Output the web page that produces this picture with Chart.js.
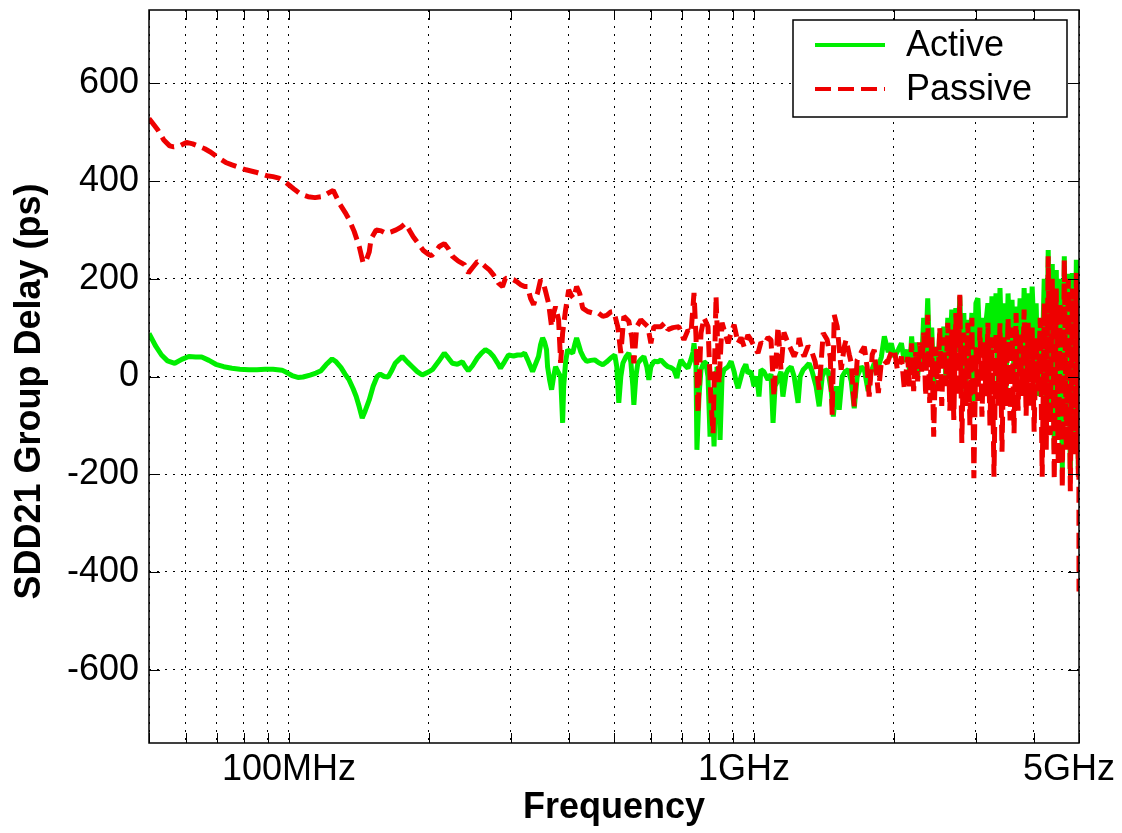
<!DOCTYPE html>
<html>
<head>
<meta charset="utf-8">
<title>SDD21 Group Delay</title>
<script src="https://cdn.jsdelivr.net/npm/chart.js@4.4.1/dist/chart.umd.min.js"></script>
<style>
  html, body { margin: 0; padding: 0; background: #fff; }
  #wrap { width: 1122px; height: 833px; position: relative; }
</style>
</head>
<body>
<div id="wrap"><canvas id="delayChart"></canvas></div>
<script>
// frequencies in MHz, group delay in ps
const activeFreqMHz = [
  50, 51.7, 53.2, 54.8, 56.8, 58.8, 60.9, 63.0, 64.9, 67.3, 69.6, 72.4, 75.4, 78.4, 82, 85.3, 88.8, 92.4, 96.6, 98.9,
  101.5, 104.5, 107.2, 111, 114.3, 117.2, 120.1, 123.8, 126.3, 129.4, 132, 134.7, 137.4, 139.5, 141.6, 143.7, 145.9, 148.8, 151.7, 154.7,
  157.1, 160.2, 163.4, 165.9, 169.2, 172.6, 175.2, 179.6, 184.1, 188.7, 193.5, 198.4, 203.4, 209.5, 215.8, 220.1, 224.6, 230.2, 236, 239.5,
  243.1, 248.1, 254.2, 259.4, 264.5, 269.8, 275.3, 280.7, 285, 290.7, 296.5, 304, 310.1, 316.4, 321.1, 325.8, 329.1, 334.1, 338.9, 344.1,
  347.6, 351.1, 354.6, 358, 359.8, 363.5, 367.1, 370.8, 374.4, 380, 383.9, 387.7, 389.7, 393.5, 397.4, 403.5, 407.5, 411.6, 415.5, 419.8,
  424, 430.4, 436.7, 445.6, 454.5, 463.6, 473, 482.3, 492.1, 502, 506.9, 512, 517.2, 522.4, 530.1, 538, 543.5, 548.9, 551.7, 557.1,
  562.5, 571.1, 579.7, 588.2, 594.2, 600.2, 609.2, 621.3, 630.8, 643.4, 653, 662.9, 672.8, 682.7, 689.6, 696.6, 707, 721, 732.1, 739.4,
  743.1, 750.4, 753.9, 761.6, 769.3, 780.8, 788.3, 796.4, 804.5, 812.5, 820.6, 828.7, 832.6, 841.1, 845.4, 853.8, 862.3, 879.5, 892.9, 906.3,
  915.2, 924.2, 938.3, 947.7, 960.4, 970.2, 985, 1000, 1015, 1025, 1035, 1050, 1072, 1088, 1099, 1110, 1126, 1143, 1154, 1172,
  1184, 1202, 1220, 1244, 1257, 1276, 1295, 1314, 1334, 1360, 1381, 1402, 1423, 1444, 1466, 1481, 1503, 1525, 1548, 1571,
  1595, 1619, 1643, 1667, 1701, 1727, 1760, 1787, 1814, 1851, 1879, 1907, 1944, 1974, 2004, 2044, 2075, 2106,
  2140, 2161, 2183, 2205, 2227, 2249, 2272, 2294, 2317, 2340, 2364, 2387, 2411, 2435, 2460, 2484, 2509, 2534, 2560, 2585,
  2611, 2637, 2663, 2690, 2717, 2744, 2771, 2799, 2827, 2855, 2884, 2913, 2942, 2971, 3001, 3031, 3061, 3092, 3123, 3154,
  3185, 3217, 3249, 3282, 3315, 3348, 3381, 3415, 3449, 3484, 3519, 3554, 3589, 3625, 3661, 3698, 3735, 3772, 3810, 3848,
  3887, 3925, 3965, 4004, 4044, 4085, 4126, 4167, 4209, 4251, 4293, 4336, 4380, 4423, 4468, 4512, 4557, 4603, 4649, 4695,
  4742, 4790, 4838, 4886, 4935, 4984, 4995, 5000
];
const activeDelay = [
  88, 62, 44, 32, 27, 35, 41, 40, 40, 33, 25, 20, 17, 15, 14, 14, 15, 15, 13, 8,
  2, -2, -1, 3, 7, 12, 24, 36, 30, 18, 5, -7, -25, -41, -62, -85, -70, -48, -20, 0,
  5, 0, -1, 10, 27, 35, 41, 30, 20, 10, 3, 8, 14, 30, 48, 38, 27, 25, 30, 20,
  12, 22, 38, 48, 55, 50, 41, 28, 17, 30, 44, 42, 44, 44, 48, 35, 25, 10, 25, 41,
  65, 79, 70, 55, 20, -7, -27, 0, 20, 7, 0, -95, -20, 30, 55, 50, 48, 65, 79, 65,
  51, 38, 31, 33, 34, 28, 24, 30, 38, 44, 20, -54, 0, 27, 40, 48, 30, -20, -58, 0,
  27, 35, 41, 20, -7, 20, 31, 30, 34, 25, 20, 18, 14, -3, 20, 34, 25, 17, 35, 50,
  68, 20, -150, -40, 14, 30, 27, 0, -123, -30, -143, 10, 20, -40, -130, 0, 14, 20, 31, 10,
  -10, -24, 0, 14, 25, 7, 10, -20, 0, -41, 14, 10, -7, 5, -95, -20, -7, 10, -41, 5,
  14, 20, 0, -54, 0, 14, 20, 27, 10, -20, -61, 0, 14, 10, -30, -82, -20, -68, 0, 10,
  14, -10, -65, 0, 20, 14, -30, 10, 27, 20, 40, 82, 50, 68, 40, 55, 68, 30,
  55, 10, 82, 20, 70, 0, 60, 30, 120, 40, 160, 30, 100, -20, 61, 10, 90, 20, 102, 0,
  120, 30, 137, -10, 140, 50, 164, 20, 130, -30, 116, 40, 130, -50, 150, 160, 60, 120, 48, 110,
  150, 20, 164, 60, 170, -20, 181, 40, 150, -30, 170, 60, 157, 0, 143, 50, 160, -20, 181, 60,
  170, 0, 184, 80, 150, -40, 116, 30, 200, -100, 259, -60, 230, -150, 218, -120, 200, -190, 246, -100,
  210, -200, 212, -150, 239, -190, 230, 100
];

const passiveFreqMHz = [
  50, 52.2, 53.8, 55.4, 56.5, 58.2, 60.2, 62.1, 64.0, 65.9, 67.9, 70.6, 73.1, 75.4, 78.0, 80.8, 84.9, 87.5, 89.6, 92.4,
  95.1, 97.5, 100, 103, 106.1, 109.9, 113.8, 117.8, 121.3, 124.5, 128.8, 132, 134.7, 138.1, 141.6, 144.4, 146.6, 148.8, 150.2, 154.0,
  157.9, 161.8, 165.9, 170.0, 174.4, 177.8, 181.4, 185, 189.7, 194.5, 199.4, 202.4, 206.4, 210.5, 215.8, 220, 224.6, 231.3, 238.4, 243.1,
  249.3, 254.2, 259.4, 264.5, 269.8, 275.3, 282.2, 287.9, 292.1, 298, 304, 310.1, 314.8, 321.1, 325.8, 330.8, 335.8, 342.4, 347.6, 352.8,
  356.3, 361.6, 367.1, 370.8, 374.4, 380, 383.9, 387.7, 393.5, 399.5, 405.5, 409.6, 415.5, 421.9, 428.2, 438.9, 450, 461.3, 473, 482.3,
  492.1, 499.5, 509.4, 517.2, 525, 538, 546.2, 551.7, 559.7, 571.1, 582.5, 591.2, 600.2, 609.2, 630.8, 643.4, 653, 669.5, 689.6, 707,
  721, 732.1, 743.1, 750.4, 757.8, 769.3, 780.8, 796.4, 808.5, 816.6, 828.7, 841.1, 853.8, 866.6, 879.5, 892.9, 906.3, 924.2, 938.3, 952.4,
  970.2, 985, 1005, 1020, 1035, 1050, 1072, 1088, 1104, 1126, 1143, 1160, 1184, 1202, 1220, 1244, 1250, 1269, 1282, 1307,
  1327, 1354, 1381, 1409, 1437, 1459, 1473, 1488, 1510, 1540, 1563, 1578, 1603, 1619, 1643, 1667, 1701, 1727, 1751, 1769,
  1796, 1814, 1851, 1879, 1898, 1934, 1974, 2004, 2034, 2054, 2075, 2106,
  2140, 2161, 2183, 2205, 2227, 2249, 2272, 2294, 2317, 2340, 2364, 2387, 2411, 2435, 2460, 2484, 2509, 2534, 2560, 2585,
  2611, 2637, 2663, 2690, 2717, 2744, 2771, 2799, 2827, 2855, 2884, 2913, 2942, 2971, 3001, 3031, 3061, 3092, 3123, 3154,
  3185, 3217, 3249, 3282, 3315, 3348, 3381, 3415, 3449, 3484, 3519, 3554, 3589, 3625, 3661, 3698, 3735, 3772, 3810, 3848,
  3887, 3925, 3965, 4004, 4044, 4085, 4126, 4167, 4209, 4251, 4293, 4336, 4380, 4423, 4468, 4512, 4557, 4603, 4649, 4695,
  4742, 4790, 4838, 4886, 4935, 4984, 4995, 5000
];
const passiveDelay = [
  528, 505, 484, 472, 470, 472, 479, 476, 471, 466, 459, 447, 438, 433, 428, 423, 418, 414, 411, 409,
  406, 400, 392, 382, 373, 368, 366, 368, 375, 381, 352, 336, 321, 297, 266, 232, 238, 255, 282, 300,
  298, 293, 296, 300, 306, 313, 300, 286, 272, 258, 250, 247, 255, 266, 272, 262, 246, 236, 229, 212,
  225, 235, 232, 225, 218, 208, 191, 184, 201, 200, 198, 193, 188, 184, 184, 160, 147, 171, 198, 190,
  174, 150, 102, 130, 143, 116, 28, 89, 137, 177, 165, 160, 184, 170, 140, 133, 130, 131, 123, 125,
  132, 133, 102, 48, 123, 113, 80, 27, 102, 116, 108, 102, 68, 102, 102, 110, 96, 100, 102, 75,
  95, 89, 171, 82, -75, 89, 120, 102, -54, -116, 164, -14, 110, 89, 68, 90, 106, 68, 80, 61,
  85, 75, 58, 48, 70, 65, 80, 75, -41, 102, 14, 90, 68, 55, 41, 60, 79, 50, 41, 62,
  55, 30, -27, 89, 75, 40, -78, 126, 102, 14, 60, 75, 45, 27, -61, 34, 50, 61, 20, -41,
  45, 55, -34, 30, 34, 27, 50, 55, 14, 20, 41, -27,
  40, -20, 68, -30, 50, -10, 70, 10, 90, -40, 126, -54, 80, -123, 60, -30, 100, -60, 80, -20,
  110, -70, 96, -89, 130, -40, 167, -136, 90, -60, 110, -100, 120, -208, 60, -50, 100, -82, 70, -40,
  110, -100, 80, -205, 90, -60, 109, -154, 80, -60, 120, -90, 100, -116, 130, -70, 90, -40, 137, -80,
  110, -60, 100, -113, 80, -30, 120, -205, 150, -150, 246, -120, 200, -211, 180, -180, 150, -228, 239, -150,
  200, -235, 180, -160, 212, -205, 150, -440
];

const seriesNames = ['Active', 'Passive'];
const xGridMHz = [50, 60, 70, 80, 90, 100, 200, 300, 400, 500, 600, 700, 800, 900, 1000, 2000, 3000, 4000, 5000];
const xTickValues = [100, 1000, 5000];
// trailing spaces nudge the two right labels left, as in the original figure
const xTickLabels = ['100MHz', '1GHz  ', '5GHz  '];
const yTickValues = [-600, -400, -200, 0, 200, 400, 600];

const FONT = "'Liberation Sans', Arial, Helvetica, sans-serif";
const GREEN = '#00ee00';
const RED = '#ee0000';
const PASSIVE_DASH = [16, 7];

function toPoints(freqs, vals) {
  return freqs.map((f, i) => ({ x: f, y: vals[i] }));
}

// box round the axes plus MATLAB style inward tick marks
const axesBox = {
  id: 'axesBox',
  afterDatasetsDraw(chart) {
    const { ctx, chartArea: a, scales } = chart;
    ctx.save();
    ctx.strokeStyle = '#000';
    ctx.lineWidth = 1;
    ctx.beginPath();
    scales.x.ticks.forEach((t) => {
      const px = Math.round(scales.x.getPixelForValue(t.value)) + 0.5;
      ctx.moveTo(px, a.bottom); ctx.lineTo(px, a.bottom - 10);
      ctx.moveTo(px, a.top); ctx.lineTo(px, a.top + 10);
    });
    scales.y.ticks.forEach((t) => {
      const py = Math.round(scales.y.getPixelForValue(t.value)) + 0.5;
      ctx.moveTo(a.left, py); ctx.lineTo(a.left + 11, py);
      ctx.moveTo(a.right, py); ctx.lineTo(a.right - 11, py);
    });
    ctx.stroke();
    ctx.lineWidth = 1.5;
    ctx.strokeRect(a.left, a.top, a.right - a.left, a.bottom - a.top);
    ctx.restore();
  }
};

// legend inside the top right corner
const cornerLegend = {
  id: 'cornerLegend',
  afterDraw(chart) {
    const { ctx, chartArea: a } = chart;
    const w = 274, h = 97;
    const x0 = a.right - 12 - w, y0 = a.top + 10;
    ctx.save();
    ctx.fillStyle = '#fff';
    ctx.fillRect(x0, y0, w, h);
    ctx.strokeStyle = '#000';
    ctx.lineWidth = 1.5;
    ctx.strokeRect(x0, y0, w, h);
    chart.data.datasets.forEach((ds, i) => {
      const ly = y0 + 25 + i * 44;
      ctx.beginPath();
      ctx.strokeStyle = ds.borderColor;
      ctx.lineWidth = 4;
      ctx.setLineDash(ds.borderDash || []);
      ctx.moveTo(x0 + 22, ly);
      ctx.lineTo(x0 + 92, ly);
      ctx.stroke();
      ctx.setLineDash([]);
      ctx.fillStyle = '#000';
      ctx.font = '36px ' + FONT;
      ctx.textBaseline = 'middle';
      ctx.textAlign = 'left';
      ctx.fillText(ds.label, x0 + 113, ly + 1);
    });
    ctx.restore();
  }
};

const ctx = document.getElementById('delayChart').getContext('2d');

new Chart(ctx, {
  type: 'line',
  data: {
    datasets: [
      {
        label: seriesNames[0],
        data: toPoints(activeFreqMHz, activeDelay),
        borderColor: GREEN,
        borderWidth: 5,
        pointRadius: 0,
        tension: 0,
        borderJoinStyle: 'bevel',
        order: 2
      },
      {
        label: seriesNames[1],
        data: toPoints(passiveFreqMHz, passiveDelay),
        borderColor: RED,
        borderWidth: 5,
        borderDash: PASSIVE_DASH,
        pointRadius: 0,
        tension: 0,
        borderJoinStyle: 'bevel',
        order: 1
      }
    ]
  },
  options: {
    animation: false,
    responsive: true,
    maintainAspectRatio: false,
    layout: { padding: { left: 0, right: 43, top: 10, bottom: 0 } },
    plugins: {
      legend: { display: false },
      tooltip: { enabled: false }
    },
    scales: {
      x: {
        type: 'logarithmic',
        min: 50,
        max: 5000,
        afterBuildTicks: (scale) => {
          scale.ticks = xGridMHz.map((v) => ({ value: v }));
        },
        afterFit: (scale) => {
          scale.height = 90;
          scale.paddingLeft = 0;
          scale.paddingRight = 0;
        },
        ticks: {
          autoSkip: false,
          maxRotation: 0,
          padding: 5,
          color: '#000',
          font: { family: FONT, size: 36 },
          callback: (value) => {
            const k = xTickValues.indexOf(value);
            return k >= 0 ? xTickLabels[k] : '';
          }
        },
        grid: { color: '#000', lineWidth: 1, drawTicks: false },
        border: { display: false, dash: [2, 6] },
        title: {
          display: true,
          text: 'Frequency',
          color: '#000',
          font: { family: FONT, size: 36, weight: 'bold' },
          padding: { top: 0, bottom: 3 }
        }
      },
      y: {
        min: -750,
        max: 750,
        afterBuildTicks: (scale) => {
          scale.ticks = yTickValues.map((v) => ({ value: v }));
        },
        afterFit: (scale) => {
          scale.width = 149;
          scale.paddingTop = 0;
          scale.paddingBottom = 0;
        },
        ticks: {
          padding: 10,
          color: '#000',
          font: { family: FONT, size: 36 }
        },
        grid: { color: '#000', lineWidth: 1, drawTicks: false },
        border: { display: false, dash: [2, 6] },
        title: {
          display: true,
          text: 'SDD21 Group Delay (ps)   ',
          color: '#000',
          font: { family: FONT, size: 36, weight: 'bold' },
          padding: { top: 8, bottom: 0 }
        }
      }
    }
  },
  plugins: [axesBox, cornerLegend]
});
</script>
</body>
</html>
